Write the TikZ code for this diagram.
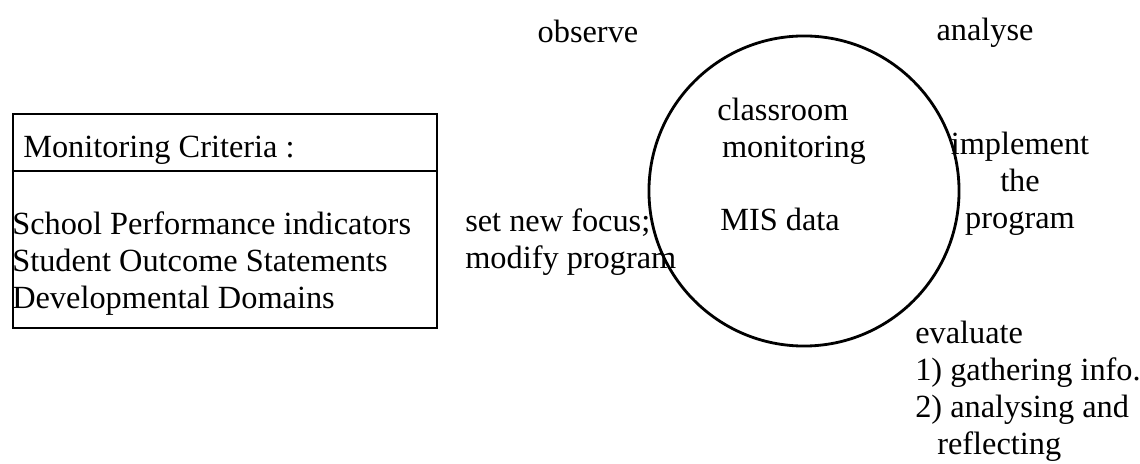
\documentclass[tikz,border=0pt]{standalone}
\usepackage{fontspec}
\setmainfont{Liberation Serif}
\usetikzlibrary{positioning}

\begin{document}
\begin{tikzpicture}[%
        x = 0.025cm,
        y = -0.025cm,
        line cap = round,
        every node/.style = {inner sep = 0pt, font = \fontsize{23}{26.5}\selectfont},
        label/.style = {anchor = base west, align = left}
    ]

        % Fix the page size.
        \useasboundingbox (0, 0) rectangle (1140, 464);

        % coordinates
        \coordinate (TL) at (13, 114); % Top left corner of the box.
        \coordinate (BR) at (437, 328); % Bottom right corner of the box.
        \coordinate (DL) at (13, 171); % Divider, left end.
        \coordinate (DR) at (437, 171); % Divider, right end.

        % Criteria box.
        \draw[line width = 1.6pt] (TL) rectangle (BR);
        \draw[line width = 1.6pt] (DL) to (DR);

        % Multi-line labels are placed by the baseline of their last line.
        \node[label] (head) at (23, 158) {Monitoring Criteria :};
        \node[label] (list) at (12, 309) {School Performance indicators\\
            Student Outcome Statements\\
            Developmental Domains};

        % Central circle.
        \node[draw, circle, line width = 2pt, minimum size = 7.75cm] (cycle) at (804, 191) {};

        \node[label] (cls) at (717, 158) {classroom\\ \hspace*{0.12cm}monitoring};
        \node[label] (mis) at (720, 231) {MIS data};

        % Steps round the circle.
        \node[anchor = base] (obs) at (588, 43) {observe};
        \node[anchor = base] (ana) at (985, 41) {analyse};
        \node[anchor = base, align = center] (imp) at (1020, 229) {implement\\ the\\ program};
        \node[label] (eva) at (915, 455) {evaluate\\
            1) gathering info.\\
            2) analysing and\\
            \hspace*{0.55cm}reflecting};
        \node[label] (set) at (465, 269) {set new focus;\\ modify program};
    \end{tikzpicture}
\end{document}
